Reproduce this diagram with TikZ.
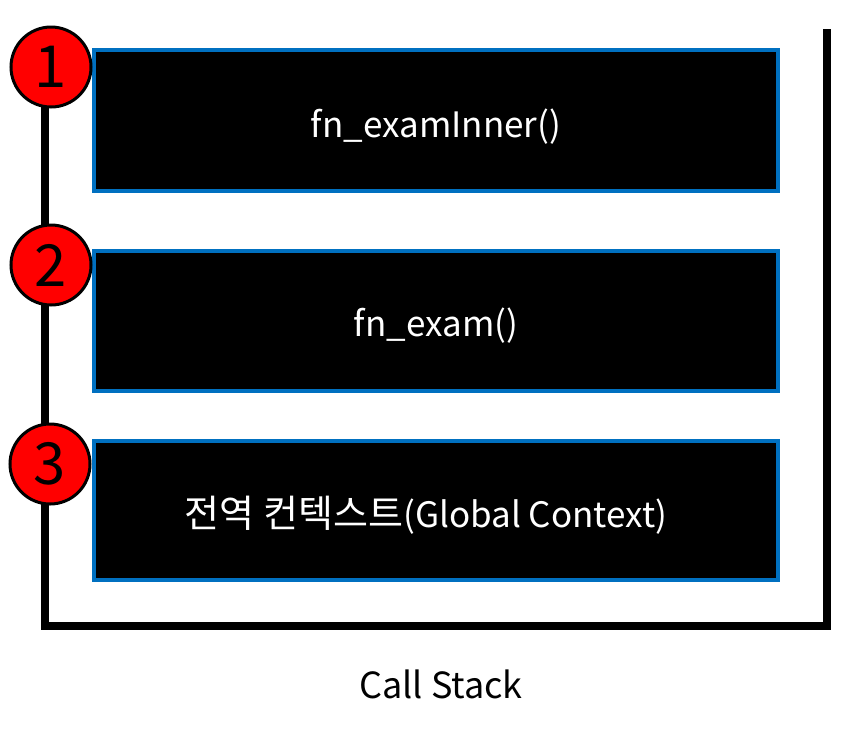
\documentclass[tikz,border=0pt]{standalone}
\usepackage{fontspec}
\setmainfont{Noto Sans CJK KR}
\definecolor{frameblue}{RGB}{0,112,192}
\begin{document}
\begin{tikzpicture}[x=1pt,y=-1pt,
  frame/.style={draw=frameblue,line width=4pt,fill=black,minimum width=684pt},
  frametext/.style={text=white,font=\fontsize{35}{40}\selectfont},
  badge/.style={circle,draw=black,line width=3pt,fill=red,minimum size=80pt,inner sep=0pt,font=\fontsize{58}{60}\selectfont}]
\useasboundingbox (0,0) rectangle (856,729);

% stack outline
\draw[line width=8pt,miter limit=10] (45,100) -- (45,626) -- (827,626) -- (827,29);

% frames
\node[frame,minimum height=141pt] (inner) at (436,120.5) {};
\node[frametext] (innertxt) at (436,127) {fn\_examInner()};
\node[frame,minimum height=140pt] (exam) at (436,321) {};
\node[frametext] (examtxt) at (436,326) {fn\_exam()};
\node[frame,minimum height=139pt] (global) at (436,510.5) {};
\node[frametext] (globaltxt) at (426,515) {{\fontsize{38}{40}\selectfont 전역 컨텍스트}(Global Context)};

% numbers
\node[badge] (one) at (51,67) {1};
\node[badge] (two) at (51,265) {2};
\node[badge] (three) at (50,464) {3};

\node[font=\fontsize{36}{40}\selectfont] (title) at (441,684) {Call Stack};
\end{tikzpicture}
\end{document}
